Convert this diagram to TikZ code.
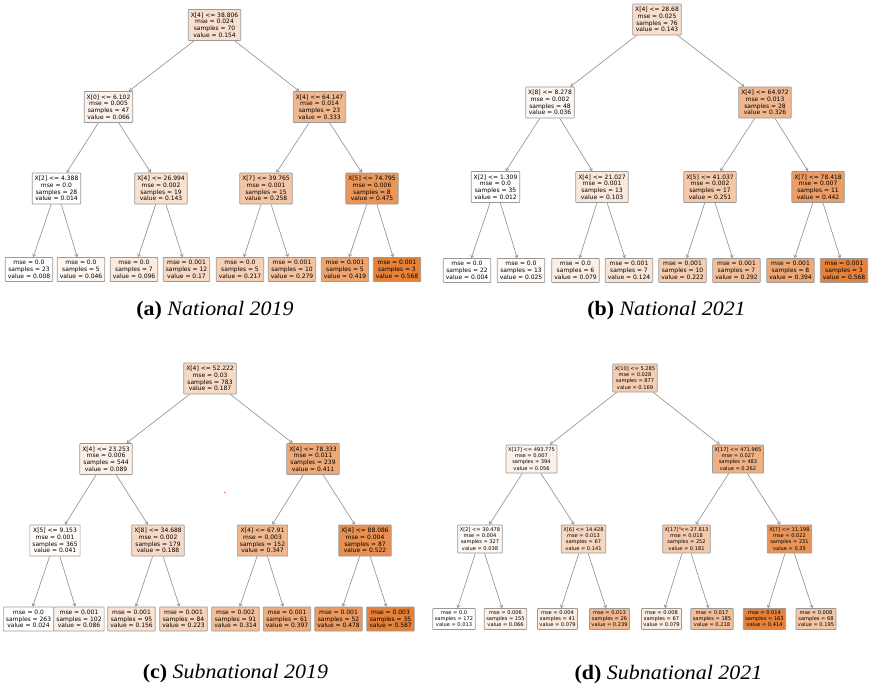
\documentclass[tikz,border=0pt]{standalone}
\usepackage{fontspec}
\setmainfont{Liberation Serif}
\newfontfamily\dejavu{DejaVu Sans}
\usetikzlibrary{arrows.meta}
\definecolor{tor}{RGB}{229,129,57}
\newcommand\intxt[4]{#1\\mse = #2\\samples = #3\\value = #4}
\newcommand\lftxt[3]{mse = #1\\samples = #2\\value = #3}
\tikzset{
  tn/.style={draw=black!40, line width=0.7pt, rounded corners=0.6pt, align=center,
    inner xsep=2.5pt, inner ysep=1pt, font=\dejavu\fontsize{6}{6.7}\selectfont},
  inA/.style={tn, minimum height=31pt},
  lfA/.style={tn, minimum height=24pt},
  inD/.style={tn, font=\dejavu\fontsize{5.1}{6.1}\selectfont, inner xsep=2pt, minimum height=28pt},
  lfD/.style={tn, font=\dejavu\fontsize{5.1}{6.1}\selectfont, inner xsep=2pt, minimum height=21pt},
  edge/.style={draw=black!42, line width=0.65pt, -{Straight Barb[length=2.6pt,width=3.4pt]}},
  captxt/.style={anchor=base, font=\fontsize{20.5}{24}\selectfont, inner sep=0pt},
}
\begin{document}
\begin{tikzpicture}[x=1pt,y=-1pt]
\useasboundingbox[fill=white] (0,0) rectangle (869,689);
% ---------- (a) National 2019
\node[inA, fill=tor!26] (a0) at (214.5,25) {\intxt{X[4] <= 38.806}{0.024}{70}{0.154}};
\node[inA, fill=tor!10] (a1) at (108.5,107) {\intxt{X[0] <= 6.102}{0.005}{47}{0.066}};
\node[inA, fill=tor!58] (a2) at (319.5,107) {\intxt{X[4] <= 64.147}{0.014}{23}{0.333}};
\node[inA, fill=tor!1] (a3) at (56.5,188.5) {\intxt{X[2] <= 4.388}{0.0}{28}{0.014}};
\node[inA, fill=tor!24] (a4) at (161,188.5) {\intxt{X[4] <= 26.994}{0.002}{19}{0.143}};
\node[inA, fill=tor!45] (a5) at (266,188.5) {\intxt{X[7] <= 39.765}{0.001}{15}{0.258}};
\node[inA, fill=tor!83] (a6) at (372,188.5) {\intxt{X[5] <= 74.795}{0.006}{8}{0.475}};
\node[lfA, fill=white] (a7) at (29,269.5) {\lftxt{0.0}{23}{0.008}};
\node[lfA, fill=tor!7] (a8) at (81,269.5) {\lftxt{0.0}{5}{0.046}};
\node[lfA, fill=tor!16] (a9) at (134,269.5) {\lftxt{0.0}{7}{0.096}};
\node[lfA, fill=tor!29] (a10) at (186.5,269.5) {\lftxt{0.001}{12}{0.17}};
\node[lfA, fill=tor!37] (a11) at (240,269.5) {\lftxt{0.0}{5}{0.217}};
\node[lfA, fill=tor!48] (a12) at (292,269.5) {\lftxt{0.001}{10}{0.279}};
\node[lfA, fill=tor!73] (a13) at (345,269.5) {\lftxt{0.001}{5}{0.419}};
\node[lfA, fill=tor!100] (a14) at (397,269.5) {\lftxt{0.001}{3}{0.568}};
% ---------- (b) National 2021
\node[inA, fill=tor!25] (b0) at (657,19.5) {\intxt{X[4] <= 28.68}{0.025}{76}{0.143}};
\node[inA, fill=tor!6] (b1) at (550,102.5) {\intxt{X[8] <= 8.278}{0.002}{48}{0.036}};
\node[inA, fill=tor!57] (b2) at (765,102.5) {\intxt{X[4] <= 64.972}{0.013}{28}{0.326}};
\node[inA, fill=tor!1] (b3) at (495.5,187) {\intxt{X[2] <= 1.309}{0.0}{35}{0.012}};
\node[inA, fill=tor!18] (b4) at (602,187) {\intxt{X[4] <= 21.027}{0.001}{13}{0.103}};
\node[inA, fill=tor!44] (b5) at (710,187) {\intxt{X[5] <= 41.037}{0.002}{17}{0.251}};
\node[inA, fill=tor!78] (b6) at (818,187) {\intxt{X[7] <= 78.418}{0.007}{11}{0.442}};
\node[lfA, fill=white] (b7) at (467,270.5) {\lftxt{0.0}{22}{0.004}};
\node[lfA, fill=tor!4] (b8) at (521,270.5) {\lftxt{0.0}{13}{0.025}};
\node[lfA, fill=tor!13] (b9) at (575.5,270.5) {\lftxt{0.0}{6}{0.079}};
\node[lfA, fill=tor!21] (b10) at (629,270.5) {\lftxt{0.001}{7}{0.124}};
\node[lfA, fill=tor!39] (b11) at (682.5,270.5) {\lftxt{0.001}{10}{0.222}};
\node[lfA, fill=tor!51] (b12) at (736.5,270.5) {\lftxt{0.001}{7}{0.292}};
\node[lfA, fill=tor!69] (b13) at (790.5,270.5) {\lftxt{0.001}{8}{0.394}};
\node[lfA, fill=tor!100] (b14) at (844,270.5) {\lftxt{0.001}{3}{0.568}};
% ---------- (c) Subnational 2019
\node[inA, fill=tor!29] (c0) at (210,378.5) {\intxt{X[4] <= 52.222}{0.03}{783}{0.187}};
\node[inA, fill=tor!12] (c1) at (106,459) {\intxt{X[4] <= 23.253}{0.006}{544}{0.089}};
\node[inA, fill=tor!69] (c2) at (313,459) {\intxt{X[4] <= 78.333}{0.011}{239}{0.411}};
\node[inA, fill=tor!3] (c3) at (55,540.5) {\intxt{X[5] <= 9.153}{0.001}{365}{0.041}};
\node[inA, fill=tor!29] (c4) at (158,540.5) {\intxt{X[8] <= 34.688}{0.002}{179}{0.188}};
\node[inA, fill=tor!57] (c5) at (262.5,540.5) {\intxt{X[4] <= 67.91}{0.003}{152}{0.347}};
\node[inA, fill=tor!88] (c6) at (365,540.5) {\intxt{X[4] <= 88.086}{0.004}{87}{0.522}};
\node[lfA, fill=white] (c7) at (28.5,619) {\lftxt{0.0}{263}{0.024}};
\node[lfA, fill=tor!11] (c8) at (79,619) {\lftxt{0.001}{102}{0.086}};
\node[lfA, fill=tor!23] (c9) at (131.5,619) {\lftxt{0.001}{95}{0.156}};
\node[lfA, fill=tor!35] (c10) at (183.5,619) {\lftxt{0.001}{84}{0.223}};
\node[lfA, fill=tor!51] (c11) at (235.5,619) {\lftxt{0.002}{91}{0.314}};
\node[lfA, fill=tor!66] (c12) at (287,619) {\lftxt{0.001}{61}{0.397}};
\node[lfA, fill=tor!81] (c13) at (338.5,619) {\lftxt{0.001}{52}{0.478}};
\node[lfA, fill=tor!100] (c14) at (390.5,619) {\lftxt{0.003}{35}{0.587}};
% ---------- (d) Subnational 2021
\node[inD, fill=tor!39] (d0) at (635,378) {\intxt{X[10] <= 5.285}{0.028}{877}{0.169}};
\node[inD, fill=tor!11] (d1) at (531.5,459) {\intxt{X[17] <= 493.775}{0.007}{394}{0.056}};
\node[inD, fill=tor!62] (d2) at (738,459) {\intxt{X[17] <= 471.965}{0.027}{483}{0.262}};
\node[inD, fill=tor!6] (d3) at (480,539) {\intxt{X[2] <= 30.478}{0.004}{327}{0.038}};
\node[inD, fill=tor!32] (d4) at (583.5,539) {\intxt{X[6] <= 14.428}{0.013}{67}{0.141}};
\node[inD, fill=tor!42] (d5) at (686.5,539) {\intxt{X[17] <= 27.813}{0.018}{252}{0.181}};
\node[inD, fill=tor!84] (d6) at (789.5,539) {\intxt{X[7] <= 11.198}{0.022}{231}{0.35}};
\node[lfD, fill=white] (d7) at (454,619) {\lftxt{0.0}{172}{0.013}};
\node[lfD, fill=tor!13] (d8) at (505.5,619) {\lftxt{0.006}{155}{0.066}};
\node[lfD, fill=tor!16] (d9) at (557.5,619) {\lftxt{0.004}{41}{0.079}};
\node[lfD, fill=tor!56] (d10) at (609.5,619) {\lftxt{0.013}{26}{0.239}};
\node[lfD, fill=tor!16] (d11) at (661.5,619) {\lftxt{0.008}{67}{0.079}};
\node[lfD, fill=tor!51] (d12) at (712,619) {\lftxt{0.017}{185}{0.218}};
\node[lfD, fill=tor!100] (d13) at (764.5,619) {\lftxt{0.014}{163}{0.414}};
\node[lfD, fill=tor!45] (d14) at (816,619) {\lftxt{0.008}{68}{0.195}};
% ---------- connectors
\foreach \t in {a,b,c,d}{
  \foreach \p/\q in {0/1,0/2,1/3,1/4,2/5,2/6,3/7,3/8,4/9,4/10,5/11,5/12,6/13,6/14}{
    \draw[edge] (\t\p) -- (\t\q);
  }
}
% ---------- stray red marks
\fill[red] (225,492.5) circle (0.7);
\fill[red] (680,528) circle (0.8);
% ---------- captions
\node[captxt] (capa) at (215,315.5) {\scalebox{1.07}[1]{\textbf{(a)} \textit{National 2019}}};
\node[captxt] (capb) at (666.5,315.5) {\scalebox{1.07}[1]{\textbf{(b)} \textit{National 2021}}};
\node[captxt] (capc) at (235.5,678) {\scalebox{1.07}[1]{\textbf{(c)} \textit{Subnational 2019}}};
\node[captxt] (capd) at (668.5,679) {\scalebox{1.07}[1]{\textbf{(d)} \textit{Subnational 2021}}};
\end{tikzpicture}
\end{document}
